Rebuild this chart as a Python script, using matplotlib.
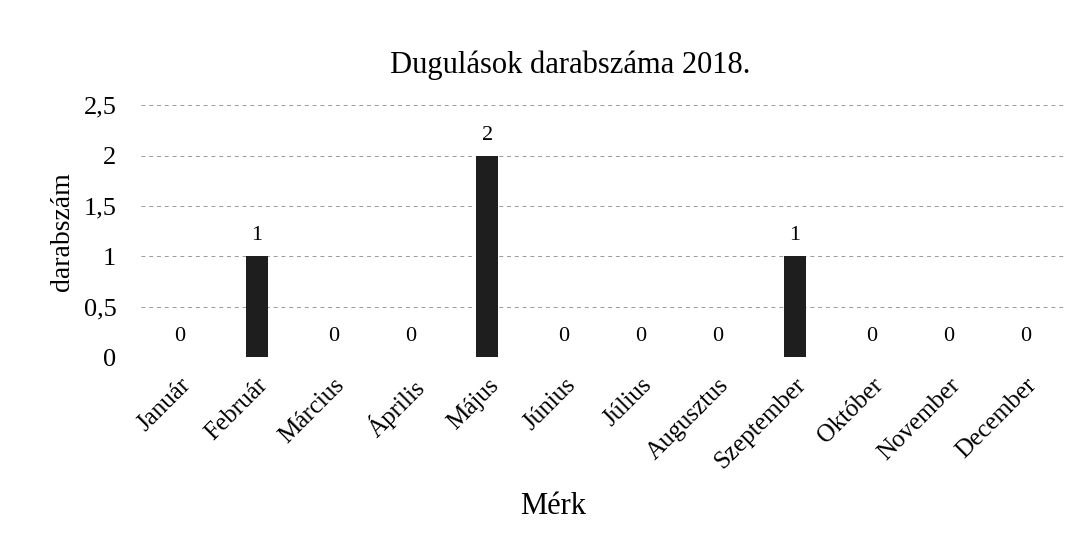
import matplotlib.pyplot as plt

# === Data ===
months = ["Január", "Február", "Március", "Április", "Május", "Június",
          "Július", "Augusztus", "Szeptember", "Október", "November", "December"]
counts = [0, 1, 0, 0, 2, 0, 0, 0, 1, 0, 0, 0]
yticks = [0, 0.5, 1, 1.5, 2, 2.5]
ytick_labels = ["0", "0,5", "1", "1,5", "2", "2,5"]

plt.rcParams.update({
    "font.family": ["Liberation Serif", "DejaVu Serif"],
    "font.size": 16,
})

fig = plt.figure(figsize=(10.79, 5.6), dpi=100)
ax = fig.add_axes([0.131, 0.362, 0.855, 0.45])

x = list(range(len(months)))
ax.bar(x, counts, width=0.29, color="#1e1e1e", zorder=3)

for xi, v in zip(x, counts):
    ax.annotate(str(v), (xi, v), xytext=(0, 8), textcoords="offset points",
                ha="center", va="bottom", fontsize=16)

ax.set_xlim(-0.5, len(months) - 0.5)
ax.set_ylim(0, 2.5)
ax.set_yticks(yticks)
ax.set_yticklabels(ytick_labels, fontsize=19)
ax.set_xticks(x)
ax.set_xticklabels(months, rotation=45, ha="right", rotation_mode="anchor", fontsize=18)
ax.tick_params(axis="y", length=0, pad=18)
ax.tick_params(axis="x", length=0, pad=12)
ax.yaxis.grid(True, linestyle=(0, (4, 4)), color="#999999", linewidth=0.7, zorder=0)

for s in ax.spines.values():
    s.set_visible(False)

ax.set_ylabel("darabszám", fontsize=20, labelpad=6)
ax.set_xlabel("Mérk", fontsize=22, va="center")
ax.xaxis.set_label_coords(0.446, -0.594)
fig.text(570 / 1079, 1 - 65 / 560, "Dugulások darabszáma 2018.", fontsize=22,
         ha="center", va="center")

plt.savefig("out.png", dpi=100)
plt.close()
